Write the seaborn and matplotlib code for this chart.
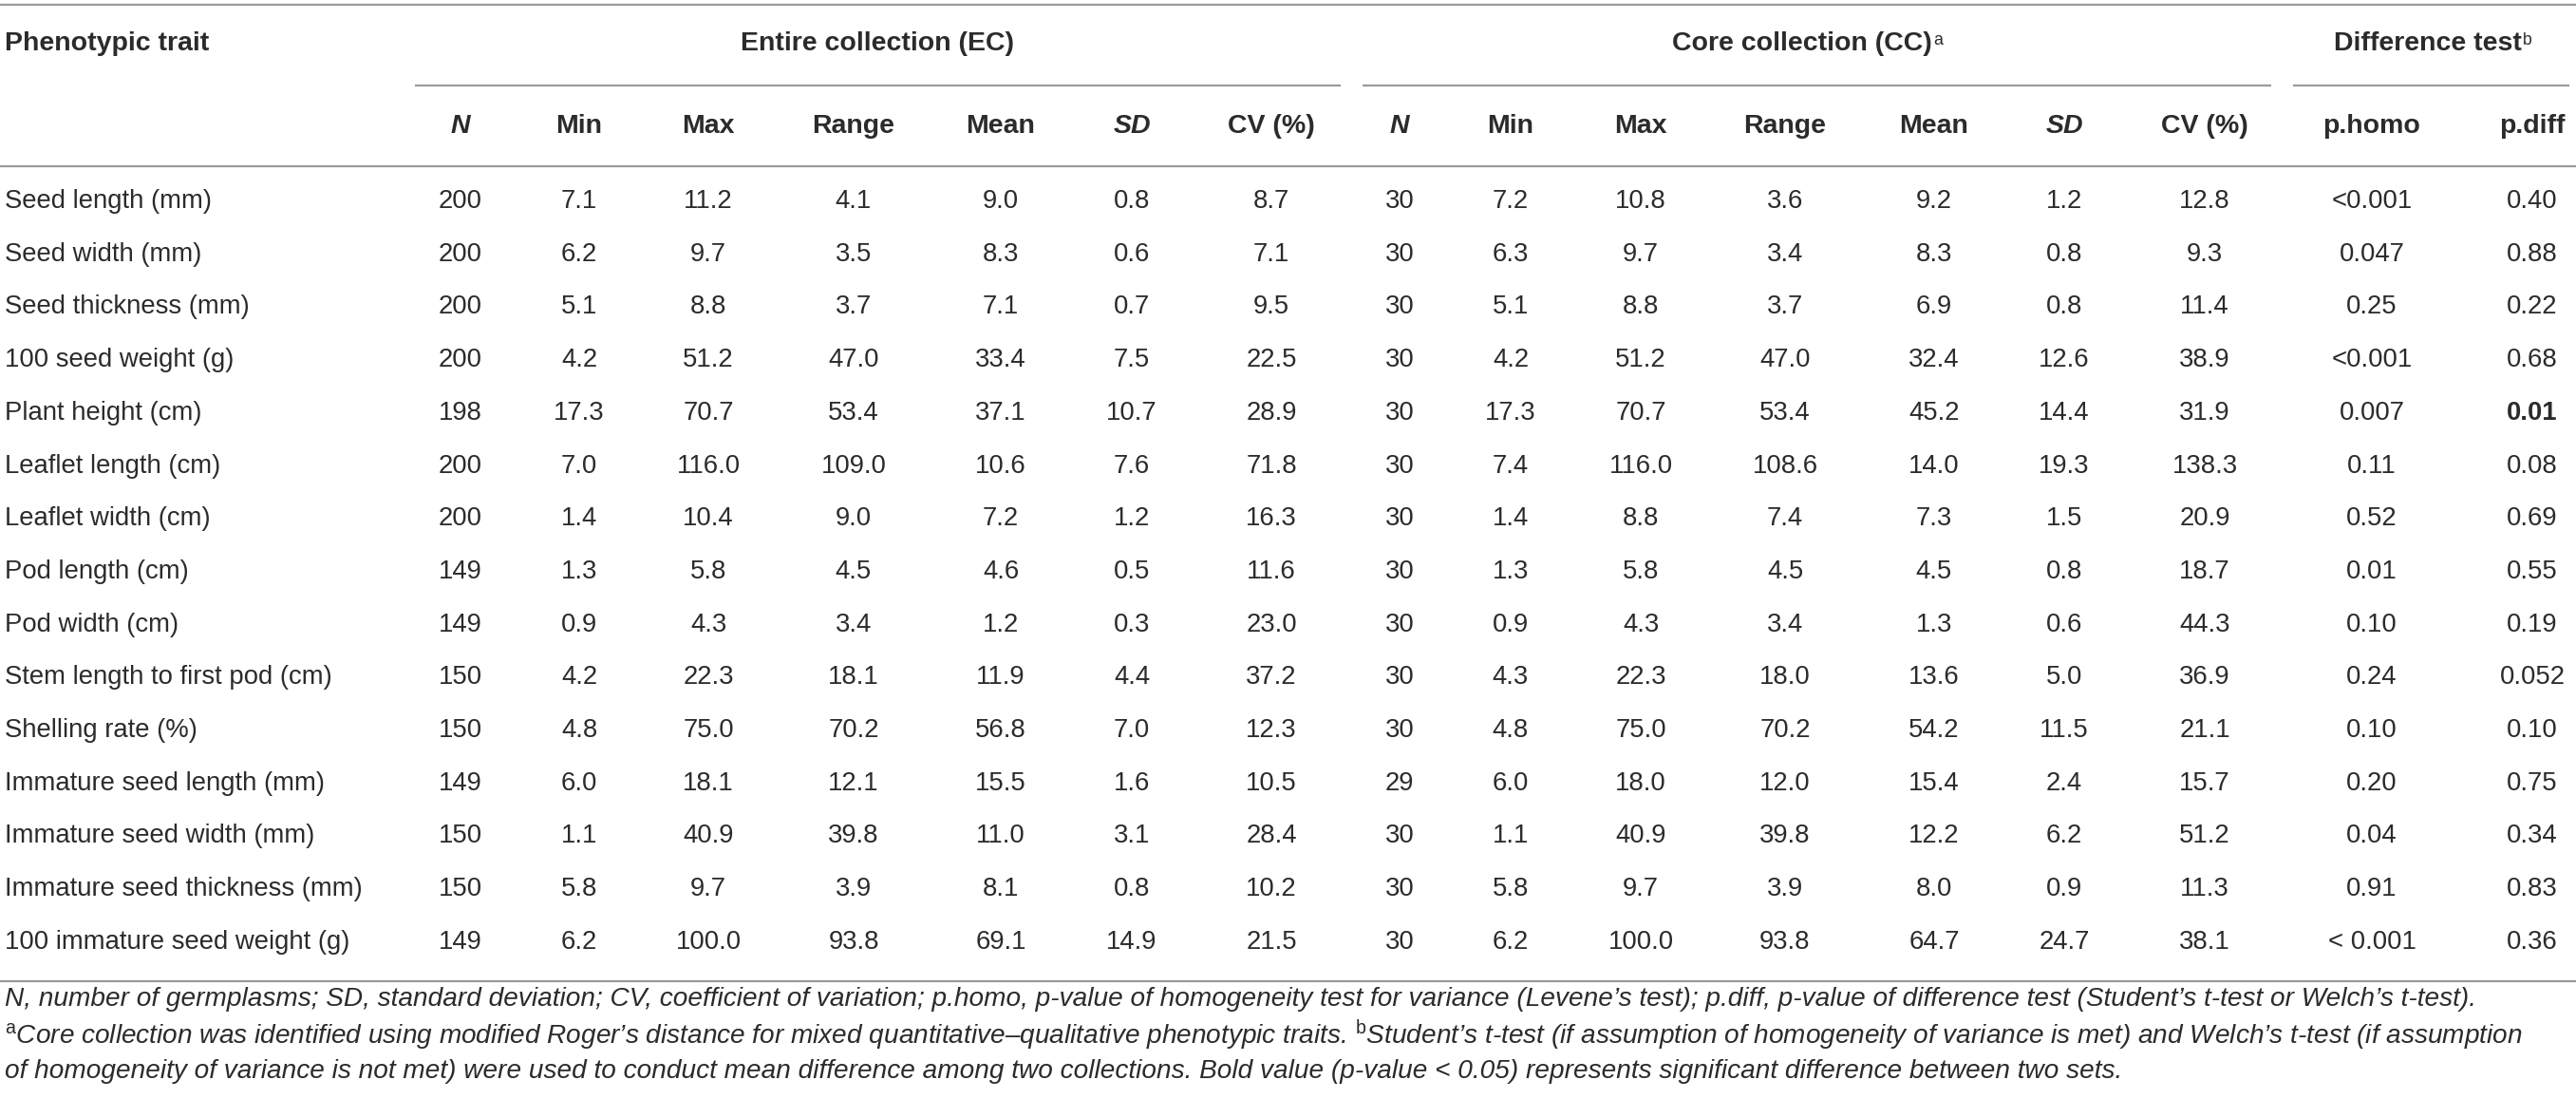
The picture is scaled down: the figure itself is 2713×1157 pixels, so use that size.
import matplotlib
matplotlib.use("Agg")
import matplotlib.pyplot as plt
import seaborn as sns

# table data
traits = ["Seed length (mm)", "Seed width (mm)", "Seed thickness (mm)", "100 seed weight (g)",
          "Plant height (cm)", "Leaflet length (cm)", "Leaflet width (cm)", "Pod length (cm)",
          "Pod width (cm)", "Stem length to first pod (cm)", "Shelling rate (%)",
          "Immature seed length (mm)", "Immature seed width (mm)", "Immature seed thickness (mm)",
          "100 immature seed weight (g)"]

ec_n = [200, 200, 200, 200, 198, 200, 200, 149, 149, 150, 150, 149, 150, 150, 149]
ec_min = [7.1, 6.2, 5.1, 4.2, 17.3, 7.0, 1.4, 1.3, 0.9, 4.2, 4.8, 6.0, 1.1, 5.8, 6.2]
ec_max = [11.2, 9.7, 8.8, 51.2, 70.7, 116.0, 10.4, 5.8, 4.3, 22.3, 75.0, 18.1, 40.9, 9.7, 100.0]
ec_range = [4.1, 3.5, 3.7, 47.0, 53.4, 109.0, 9.0, 4.5, 3.4, 18.1, 70.2, 12.1, 39.8, 3.9, 93.8]
ec_mean = [9.0, 8.3, 7.1, 33.4, 37.1, 10.6, 7.2, 4.6, 1.2, 11.9, 56.8, 15.5, 11.0, 8.1, 69.1]
ec_sd = [0.8, 0.6, 0.7, 7.5, 10.7, 7.6, 1.2, 0.5, 0.3, 4.4, 7.0, 1.6, 3.1, 0.8, 14.9]
ec_cv = [8.7, 7.1, 9.5, 22.5, 28.9, 71.8, 16.3, 11.6, 23.0, 37.2, 12.3, 10.5, 28.4, 10.2, 21.5]

cc_n = [30, 30, 30, 30, 30, 30, 30, 30, 30, 30, 30, 29, 30, 30, 30]
cc_min = [7.2, 6.3, 5.1, 4.2, 17.3, 7.4, 1.4, 1.3, 0.9, 4.3, 4.8, 6.0, 1.1, 5.8, 6.2]
cc_max = [10.8, 9.7, 8.8, 51.2, 70.7, 116.0, 8.8, 5.8, 4.3, 22.3, 75.0, 18.0, 40.9, 9.7, 100.0]
cc_range = [3.6, 3.4, 3.7, 47.0, 53.4, 108.6, 7.4, 4.5, 3.4, 18.0, 70.2, 12.0, 39.8, 3.9, 93.8]
cc_mean = [9.2, 8.3, 6.9, 32.4, 45.2, 14.0, 7.3, 4.5, 1.3, 13.6, 54.2, 15.4, 12.2, 8.0, 64.7]
cc_sd = [1.2, 0.8, 0.8, 12.6, 14.4, 19.3, 1.5, 0.8, 0.6, 5.0, 11.5, 2.4, 6.2, 0.9, 24.7]
cc_cv = [12.8, 9.3, 11.4, 38.9, 31.9, 138.3, 20.9, 18.7, 44.3, 36.9, 21.1, 15.7, 51.2, 11.3, 38.1]

p_homo = ["<0.001", "0.047", "0.25", "<0.001", "0.007", "0.11", "0.52", "0.01", "0.10",
          "0.24", "0.10", "0.20", "0.04", "0.91", "< 0.001"]
p_diff = ["0.40", "0.88", "0.22", "0.68", "0.01", "0.08", "0.69", "0.55", "0.19",
          "0.052", "0.10", "0.75", "0.34", "0.83", "0.36"]

col_labels = ["N", "Min", "Max", "Range", "Mean", "SD", "CV (%)",
              "N", "Min", "Max", "Range", "Mean", "SD", "CV (%)", "p.homo", "p.diff"]
italic_labels = ["N", "SD"]

footnotes = [
    "N, number of germplasms; SD, standard deviation; CV, coefficient of variation; p.homo, p-value of homogeneity test for variance (Levene\u2019s test); p.diff, p-value of difference test (Student\u2019s t-test or Welch\u2019s t-test).",
    "$^{\\mathrm{a}}$Core collection was identified using modified Roger\u2019s distance for mixed quantitative\u2013qualitative phenotypic traits. $^{\\mathrm{b}}$Student\u2019s t-test (if assumption of homogeneity of variance is met) and Welch\u2019s t-test (if assumption",
    "of homogeneity of variance is not met) were used to conduct mean difference among two collections. Bold value (p-value < 0.05) represents significant difference between two sets.",
]

# style
sns.set_theme(style="white")
plt.rcParams["font.family"] = ["Liberation Sans", "DejaVu Sans"]
plt.rcParams["mathtext.fontset"] = "custom"
plt.rcParams["mathtext.rm"] = "Liberation Sans"
plt.rcParams["mathtext.it"] = "Liberation Sans:italic"

W, H = 2713, 1157
fig = plt.figure(figsize=(W / 100, H / 100), dpi=100)
ax = fig.add_axes([0, 0, 1, 1])
ax.set_xlim(0, W)
ax.set_ylim(H, 0)
ax.set_axis_off()

txt = "#2b2b2b"
rule = "#9a9a9a"
body_fs = 19.8
head_fs = 20.5
note_fs = 20.2

# layout (pixel units)
col_x = [485, 610, 746, 899, 1054, 1192, 1339, 1474, 1591, 1728, 1880, 2037, 2174, 2322, 2498, 2667]
row_y0, row_step = 212, 55.7
group_y, head_y = 46, 133

# rules
ax.hlines([5, 175, 1033], 0, W, color=rule, lw=1.6)
ax.hlines([90, 90, 90], [437, 1435, 2415], [1412, 2392, 2706], color=rule, lw=1.6)

# headers
ax.text(5, group_y, "Phenotypic trait", ha="left", va="center", fontsize=head_fs,
        fontweight="bold", color=txt)
groups = [("Entire collection (EC)", 924, ""), ("Core collection (CC)", 1898, "a"),
          ("Difference test", 2557, "b")]
for label, gx, sup in groups:
    t = ax.text(gx, group_y, label, ha="center", va="center", fontsize=head_fs,
                fontweight="bold", color=txt)
    if sup:
        ax.annotate(sup, xy=(1, 0.95), xycoords=t, xytext=(1, 0), textcoords="offset points",
                    ha="left", va="top", fontsize=head_fs * 0.62, color=txt)

for x, lab in zip(col_x, col_labels):
    ax.text(x, head_y, lab, ha="center", va="center", fontsize=head_fs, fontweight="bold",
            fontstyle="italic" if lab in italic_labels else "normal", color=txt)

# body
numeric_cols = [ec_min, ec_max, ec_range, ec_mean, ec_sd, ec_cv]
cc_cols = [cc_min, cc_max, cc_range, cc_mean, cc_sd, cc_cv]
for i, trait in enumerate(traits):
    y = row_y0 + i * row_step
    ax.text(5, y, trait, ha="left", va="center", fontsize=body_fs, color=txt)
    cells = [str(ec_n[i])] + [f"{c[i]:.1f}" for c in numeric_cols] \
        + [str(cc_n[i])] + [f"{c[i]:.1f}" for c in cc_cols] + [p_homo[i], p_diff[i]]
    for j, (x, s) in enumerate(zip(col_x, cells)):
        bold = j == len(cells) - 1 and float(p_diff[i]) < 0.05
        ax.text(x, y, s, ha="center", va="center", fontsize=body_fs, color=txt,
                fontweight="bold" if bold else "normal")

# footnotes
for k, line in enumerate(footnotes):
    ax.text(5, 1052 + k * 38, line, ha="left", va="center", fontsize=note_fs,
            fontstyle="italic", color=txt)

fig.savefig("out.png", dpi=100)
